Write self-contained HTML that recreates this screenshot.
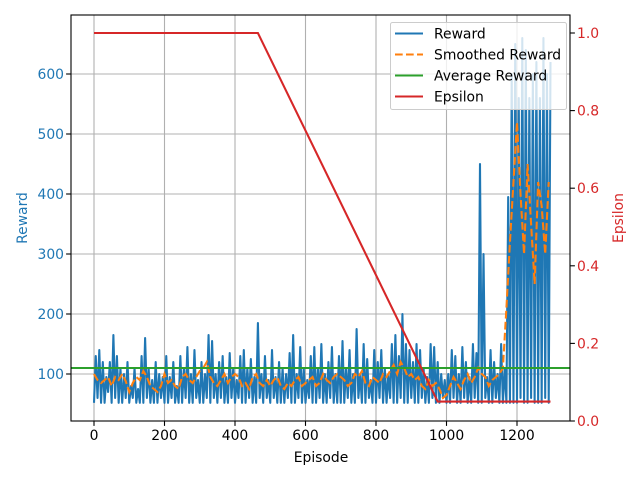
<!DOCTYPE html>
<html><head><meta charset="utf-8"><style>
body{margin:0;background:#fff;}
svg{font-family:"DejaVu Sans","Liberation Sans",sans-serif;}
</style></head><body>
<svg id="c" width="640" height="480" xmlns="http://www.w3.org/2000/svg"></svg>
<script>
const rewardStep = 5;
const rewards = [
52,130,60,140,52,120,52,95,70,120,52,165,60,130,52,110,52,100,60,120,
52,80,60,110,52,75,52,130,52,160,60,110,52,90,52,120,52,100,60,95,
52,130,52,95,60,120,52,80,52,130,52,110,60,145,52,100,52,140,60,90,
52,120,52,100,60,165,52,155,60,100,52,120,60,130,52,95,52,135,60,110,
52,90,60,130,52,140,52,110,60,125,52,95,52,185,60,100,52,130,60,90,
52,140,60,95,52,120,52,110,52,100,60,135,52,165,52,100,60,145,52,110,
52,90,60,130,52,145,52,110,60,150,52,100,52,120,60,145,52,100,52,130,
52,155,52,110,60,140,52,100,52,175,60,100,52,150,52,125,60,90,52,140,
52,120,60,140,52,110,52,100,60,150,52,165,52,130,60,200,52,150,52,140,
60,120,52,150,52,140,60,110,52,95,52,150,60,145,52,120,52,100,60,90,
52,100,52,140,60,130,52,100,52,145,60,120,52,95,52,150,60,135,52,450,
52,300,60,95,52,140,52,120,60,100,52,150,52,110,52,395,52,600,52,650,
52,560,60,660,52,640,52,560,60,600,52,620,52,560,52,660,60,600,52,620];
const smoothStep = 10;
const smoothed = [
100,90,85,90,95,80,95,90,100,88,
70,85,95,90,105,95,80,75,70,80,
100,85,90,80,75,95,100,90,85,95,
105,110,120,95,85,80,90,100,85,95,
100,95,80,85,75,95,100,85,80,90,
80,90,95,80,75,85,80,90,95,80,
85,90,95,80,85,100,90,85,95,100,
95,90,80,85,100,95,105,85,80,95,
90,85,100,95,105,115,100,120,110,95,
100,90,95,80,75,90,80,85,75,60,
65,80,95,85,75,90,100,85,95,110,
100,95,80,90,95,100,110,210,320,420,
520,400,300,450,350,250,420,380,300,420];
const averageReward = 110;
const epsEpisodes = [0,465,975,1295];
const epsValues = [1.0,1.0,0.05,0.05];
const xTicks = [0,200,400,600,800,1000,1200];
const yTicks = [100,200,300,400,500,600];
const y2Ticks = [0,0.2,0.4,0.6,0.8,1.0];

const L=71,R=570,T=15,B=421,FS=13.9,LW=2.08;
const X=v=>94+(v)*0.3525;
const Y=v=>374-(v-100)*0.6;
const Y2=v=>421-v*388;
const svg=document.getElementById('c');
const NS='http://www.w3.org/2000/svg';
function el(tag,attrs,parent){const e=document.createElementNS(NS,tag);for(const k in attrs)e.setAttribute(k,attrs[k]);(parent||svg).appendChild(e);return e;}
const defs=el('defs',{});const cp=el('clipPath',{id:'clip'},defs);el('rect',{x:L,y:T,width:R-L,height:B-T},cp);
xTicks.forEach(t=>{const g=el('line',{x1:X(t),x2:X(t),y1:T,y2:B,stroke:'#b0b0b0','stroke-width':1.1});

});
yTicks.forEach(t=>{const g=el('line',{x1:L,x2:R,y1:Y(t),y2:Y(t),stroke:'#b0b0b0','stroke-width':1.1});

});
const plot=el('g',{'clip-path':'url(#clip)'});


let d=rewards.map((v,i)=>(i?'L':'M')+X(i*rewardStep).toFixed(2)+' '+Y(v).toFixed(2)).join(' ');
const rl=el('path',{d:d,fill:'none',stroke:'#1f77b4','stroke-width':LW,'stroke-linejoin':'round'},plot);


d=smoothed.map((v,i)=>(i?'L':'M')+X(i*smoothStep).toFixed(2)+' '+Y(v).toFixed(2)).join(' ');
const sl=el('path',{d:d,fill:'none',stroke:'#ff7f0e','stroke-width':LW,'stroke-dasharray':'7.7,3.3'},plot);


const al=el('line',{x1:L,x2:R,y1:Y(averageReward),y2:Y(averageReward),stroke:'#2ca02c','stroke-width':LW},plot);


d=epsValues.map((v,i)=>(i?'L':'M')+X(epsEpisodes[i]).toFixed(2)+' '+Y2(v).toFixed(2)).join(' ');
const el2=el('path',{d:d,fill:'none',stroke:'#d62728','stroke-width':LW},plot);


const fr=el('rect',{x:L,y:T,width:R-L,height:B-T,fill:'none',stroke:'#000','stroke-width':1.1});


xTicks.forEach(t=>{el('line',{x1:X(t),x2:X(t),y1:B,y2:B+4.9,stroke:'#000','stroke-width':1.1});
const tx=el('text',{x:X(t),y:B+19,'font-size':FS,'text-anchor':'middle',fill:'#000'});tx.textContent=t;

});
yTicks.forEach(t=>{el('line',{x1:L-4.9,x2:L,y1:Y(t),y2:Y(t),stroke:'#000','stroke-width':1.1});
const tx=el('text',{x:L-7,y:Y(t)+5,'font-size':FS,'text-anchor':'end',fill:'#1f77b4'});tx.textContent=t;

});
y2Ticks.forEach(t=>{el('line',{x1:R,x2:R+4.9,y1:Y2(t),y2:Y2(t),stroke:'#000','stroke-width':1.1});
const tx=el('text',{x:R+7,y:Y2(t)+5,'font-size':FS,'text-anchor':'start',fill:'#d62728'});tx.textContent=t.toFixed(1);

});
let t=el('text',{x:321,y:462,'font-size':FS,'text-anchor':'middle'});t.textContent='Episode';


t=el('text',{x:27,y:218,'font-size':FS,'text-anchor':'middle',fill:'#1f77b4',transform:'rotate(-90 27 218)'});t.textContent='Reward';


t=el('text',{x:623,y:218,'font-size':FS,'text-anchor':'middle',fill:'#d62728',transform:'rotate(-90 623 218)'});t.textContent='Epsilon';


const lg=el('g',{});


el('rect',{x:390.5,y:22.5,width:176,height:87,rx:2,fill:'#fff','fill-opacity':0.8,stroke:'#ccc'},lg);
const items=[['Reward','#1f77b4',''],['Smoothed Reward','#ff7f0e','7.7,3.3'],['Average Reward','#2ca02c',''],['Epsilon','#d62728','']];
items.forEach((it,i)=>{const yy=33.5+i*21;
el('line',{x1:395,x2:423,y1:yy,y2:yy,stroke:it[1],'stroke-width':LW,'stroke-dasharray':it[2]||'none'},lg);
const tx=el('text',{x:434,y:yy+5,'font-size':FS},lg);tx.textContent=it[0];

});
</script>
</body></html>
